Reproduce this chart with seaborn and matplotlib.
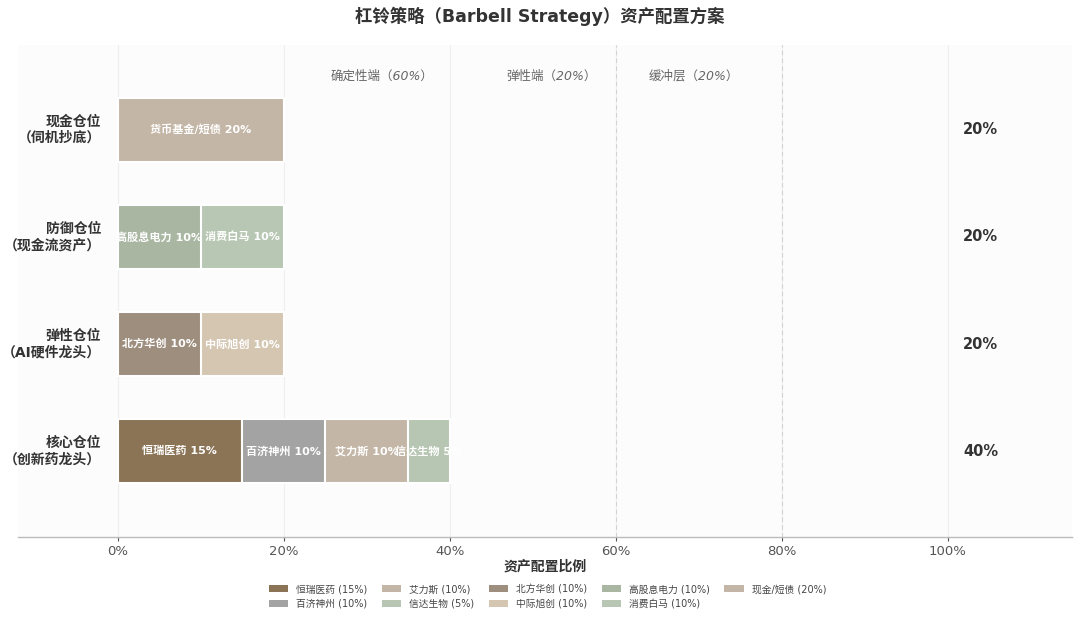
import pandas as pd
import matplotlib.pyplot as plt
from matplotlib.patches import Patch
import seaborn as sns

# =========================
# DATA
# =========================

row_order = ["现金仓位\n（伺机抄底）", "防御仓位\n（现金流资产）",
             "弹性仓位\n（AI硬件龙头）", "核心仓位\n（创新药龙头）"]

names = ["恒瑞医药", "百济神州", "艾力斯", "信达生物",
         "北方华创", "中际旭创", "高股息电力", "消费白马", "现金/短债"]
bar_texts = ["恒瑞医药", "百济神州", "艾力斯", "信达生物",
             "北方华创", "中际旭创", "高股息电力", "消费白马", "货币基金/短债"]
values = [15, 10, 10, 5, 10, 10, 10, 10, 20]
groups = [3, 3, 3, 3, 2, 2, 1, 1, 0]

colors = ["#8B7355", "#A3A3A3", "#C4B6A6", "#B6C6B2",
          "#9E8E7D", "#D5C6B2", "#A9B6A2", "#B7C7B3", "#C4B6A6"]

row_totals = [20, 20, 20, 40]

zone_labels = ["确定性端（60%）", "弹性端（20%）", "缓冲层（20%）"]
zone_x = [31.9, 52.3, 69.4]

# =========================
# PREPARE TABLE
# =========================

df = pd.DataFrame({
    "name": names,
    "text": bar_texts,
    "value": values,
    "row": [row_order[g] for g in groups],
    "row_idx": groups,
})
df["end"] = df.groupby("row_idx")["value"].cumsum()
df["start"] = df["end"] - df["value"]
df["pos"] = df.groupby("row_idx").cumcount()

# later segments are drawn first so earlier ones sit on top
hue_order = df.sort_values("pos", ascending=False, kind="stable")["name"].tolist()
palette = dict(zip(names, colors))

# =========================
# PLOT
# =========================

sns.set_theme(style="whitegrid")
plt.rcParams["font.family"] = ["DejaVu Sans", "Noto Sans CJK SC"]

fig = plt.figure(figsize=(10.8, 6.2), dpi=100)
ax = fig.add_axes([0.0167, 0.134, 0.976, 0.793])
ax.set_facecolor("#fcfcfc")

sns.barplot(
    data=df, x="end", y="row", hue="name",
    hue_order=hue_order, order=row_order,
    palette=palette, dodge=False, width=0.6,
    saturation=1, errorbar=None, legend=False,
    edgecolor="white", linewidth=1.5, orient="h", ax=ax
)

for _, r in df.iterrows():
    ax.text(r["start"] + r["value"] / 2, r["row_idx"],
            f"{r['text']} {r['value']}%",
            ha="center", va="center", color="white",
            fontsize=8, fontweight="bold", zorder=5)

# row labels inside the axes
for i, lab in enumerate(row_order):
    ax.text(-2, i, lab, ha="right", va="center",
            fontsize=10, fontweight="bold", color="#333333",
            linespacing=1.2)
    ax.text(104, i, f"{row_totals[i]}%", ha="center", va="center",
            fontsize=10.5, fontweight="bold", color="#333333")

for x, lab in zip(zone_x, zone_labels):
    ax.text(x, -0.5, lab, ha="center", va="center",
            fontsize=9, style="italic", color="#666666")

ax.axvline(60, color="#d2d2d2", linestyle=(0, (4, 3)), linewidth=0.8, zorder=1)
ax.axvline(80, color="#d2d2d2", linestyle=(0, (4, 3)), linewidth=0.8, zorder=1)

ax.set_xlim(-12, 115)
ax.set_ylim(3.8, -0.79)
ax.set_xticks([0, 20, 40, 60, 80, 100])
ax.set_xticklabels(["0%", "20%", "40%", "60%", "80%", "100%"])
ax.set_yticks([])
ax.set_ylabel("")
ax.set_xlabel("资产配置比例", fontsize=10, fontweight="bold",
              color="#333333", labelpad=1)
ax.tick_params(axis="x", colors="#555555", labelsize=9.5,
               length=3, width=0.8, bottom=True, pad=3)
ax.grid(axis="x", color="#eeeeee", linewidth=0.8)
ax.grid(axis="y", visible=False)

for side in ["top", "left", "right"]:
    ax.spines[side].set_visible(False)
ax.spines["bottom"].set_color("#bbbbbb")
ax.spines["bottom"].set_linewidth(1)

fig.suptitle("杠铃策略（Barbell Strategy）资产配置方案",
             fontsize=12.5, fontweight="bold", color="#333333", y=0.99)

handles = [Patch(facecolor=c, edgecolor="none", label=f"{n} ({v}%)")
           for n, v, c in zip(names, values, colors)]
fig.legend(handles=handles, loc="center", bbox_to_anchor=(0.507, 0.038),
           ncol=5, fontsize=7, frameon=False, handlelength=2.0,
           handleheight=0.8, columnspacing=1.5, labelcolor="#444444")

fig.savefig("out.png", dpi=100, facecolor="white")
